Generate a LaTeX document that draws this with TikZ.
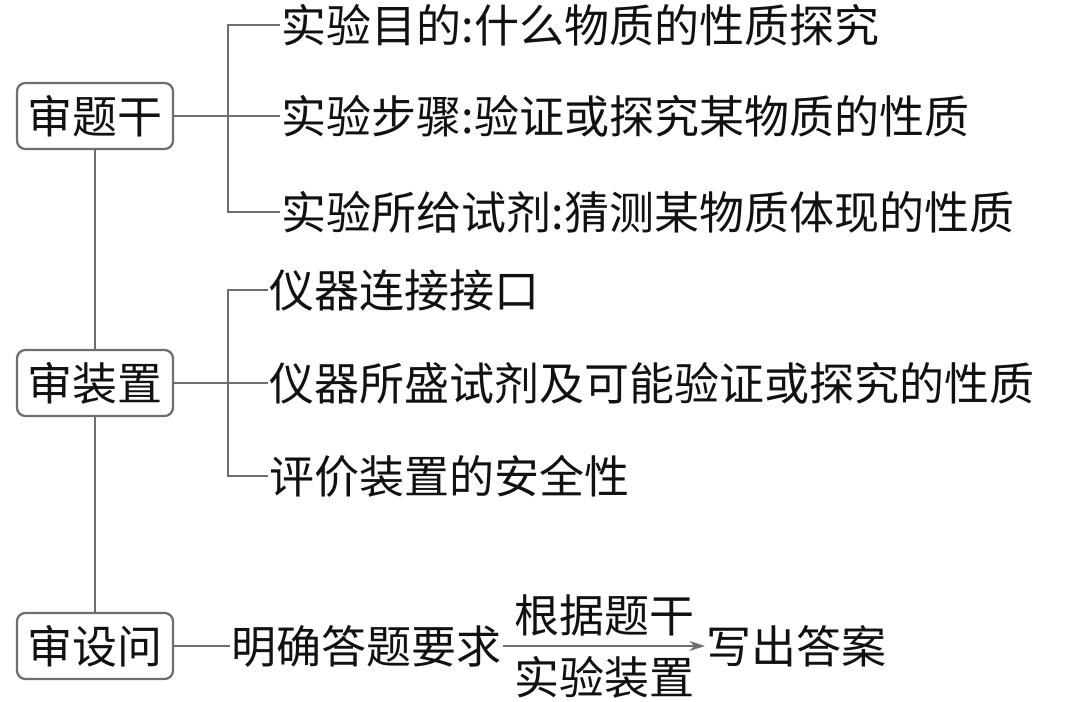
\documentclass[tikz,border=0pt]{standalone}
\usepackage{fontspec}
\setmainfont{Noto Sans CJK SC}
\usepackage{tikz}
\usetikzlibrary{positioning,arrows.meta}
\definecolor{LineGray}{HTML}{6E6E6E}
\definecolor{InkBlack}{HTML}{111111}
\tikzset{
  shenbox/.style={
    draw=LineGray,line width=1.6pt,rounded corners=6pt,
    minimum width=3.9cm,minimum height=1.65cm,
    font=\fontsize{32}{37}\selectfont\color{InkBlack},
    align=center,inner sep=2pt
  },
  itemtext/.style={
    anchor=west,inner sep=1pt,
    font=\fontsize{32}{37}\selectfont\color{InkBlack}
  },
  link/.style={draw=LineGray,line width=1.6pt},
}

\begin{document}
\begin{tikzpicture}[x=0.025cm,y=-0.025cm]
  \useasboundingbox (0,0) rectangle (1080,702);
  % three question boxes
  \node[shenbox] (tigan) at (95,116) {审题干};
  \node[shenbox] (zhuangzhi) at (95,383) {审装置};
  \node[shenbox] (shewen) at (95,646) {审设问};
  \draw[link] (tigan.south) -- (zhuangzhi.north);
  \draw[link] (zhuangzhi.south) -- (shewen.north);
  % branch of the first box
  \node[itemtext] (t1) at (280,25) {实验目的:什么物质的性质探究};
  \node[itemtext] (t2) at (280,116) {实验步骤:验证或探究某物质的性质};
  \node[itemtext] (t3) at (280,212) {实验所给试剂:猜测某物质体现的性质};
  \coordinate (j1) at (228,116);
  \draw[link] (tigan.east) -- (j1) -- (t2.west);
  \draw[link] (t1.west) -| (j1) |- (t3.west);
  % branch of the second box
  \node[itemtext] (z1) at (268,290) {仪器连接接口};
  \node[itemtext] (z2) at (268,383) {仪器所盛试剂及可能验证或探究的性质};
  \node[itemtext] (z3) at (268,476) {评价装置的安全性};
  \coordinate (j2) at (228,383);
  \draw[link] (zhuangzhi.east) -- (j2) -- (z2.west);
  \draw[link] (z1.west) -| (j2) |- (z3.west);
  % branch of the third box
  \node[itemtext] (s1) at (230,646) {明确答题要求};
  \node[itemtext] (s2) at (705,646) {写出答案};
  \draw[link] (shewen.east) -- (s1.west);
  \draw[link,-{Stealth[length=11pt,width=7pt]}] (s1.east) -- node[above=3pt,font=\fontsize{32}{37}\selectfont\color{InkBlack}] (over) {根据题干} node[below=3pt,font=\fontsize{32}{37}\selectfont\color{InkBlack}] (under) {实验装置} (s2.west);
\end{tikzpicture}
\end{document}
